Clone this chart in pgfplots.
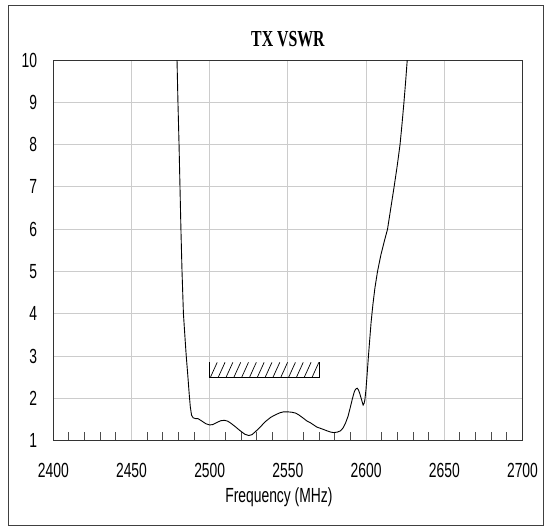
\documentclass[border=0pt]{standalone}
\usepackage{fontspec}
\usepackage{pgfplots}
\pgfplotsset{compat=1.18}
\newfontfamily\tickfont[FakeStretch=0.68]{Liberation Sans}
\newfontfamily\titlefont[FakeStretch=0.69]{Liberation Serif}
\definecolor{gridgray}{RGB}{204,204,204}
\begin{document}
\begin{tikzpicture}
\useasboundingbox (0,0) rectangle (550bp,-529bp);
\draw[black!75, line width=1bp] (8bp,-5bp) rectangle (543.5bp,-525bp);
\begin{axis}[
 at={(53.3bp,-440.6bp)}, anchor=south west,
 width=469.2bp, height=380.6bp, scale only axis,
 xmin=2400, xmax=2700, ymin=1, ymax=10,
 xtick={2400,2450,...,2700}, ytick={1,2,...,10},
 minor xtick={2410,2420,2430,2440,2460,2470,2480,2490,2510,2520,2530,2540,2560,2570,2580,2590,2610,2620,2630,2640,2660,2670,2680,2690},
 major tick length=0pt, minor tick length=8.5bp,
 xtick pos=bottom, ytick pos=left, tick align=inside,
 grid=major, major grid style={gridgray, line width=0.9bp},
 minor tick style={black!70, line width=0.9bp},
 axis line style={black!80, line width=1bp},
 scaled x ticks=false,
 /pgf/number format/1000 sep={},
 /pgf/number format/assume math mode=true,
 tick label style={font=\tickfont\fontsize{20.5}{22}\selectfont, inner sep=0pt},
 yticklabel style={anchor=east, xshift=-16bp},
 xticklabel style={anchor=north, yshift=-22bp},
 xlabel={Frequency (MHz)},
 xlabel style={font=\tickfont\fontsize{20.5}{22}\selectfont, at={(axis description cs:0.5,0)}, anchor=north, yshift=-47bp, xshift=-9bp, inner sep=0pt},
 title={TX VSWR},
 title style={font=\titlefont\bfseries\fontsize{23}{26}\selectfont, at={(axis description cs:0.5,1)}, anchor=base, yshift=8bp, inner sep=0pt},
 clip=true, unbounded coords=jump,
]
\addplot[black, line width=0.9bp] coordinates {
(2479.0,10.3) (2479.1,10) (2479.7,9) (2480.4,8) (2481.0,7) (2481.6,6) (2482.3,5) (2483.2,4) (2484.3,3.38)
(2485.0,3.0) (2485.9,2.59) (2486.9,2.1) (2487.6,1.8) (2488.4,1.6) (2489.4,1.54) (2491.0,1.52) (2492.5,1.52)
(2495.1,1.46) (2497.5,1.40) (2500,1.37) (2502,1.38) (2504.7,1.43) (2507,1.47) (2509.4,1.48)
(2511.5,1.46) (2513.2,1.42) (2516,1.34) (2519.6,1.23) (2522.5,1.15) (2525,1.12) (2527,1.14)
(2529.2,1.21) (2532,1.31) (2535.6,1.45) (2539,1.55) (2542,1.61) (2545,1.66) (2547.3,1.68)
(2550,1.68) (2552.7,1.67) (2555,1.65) (2556.9,1.61) (2559.5,1.54) (2562.3,1.46) (2564.5,1.42)
(2566.5,1.37) (2568.5,1.32) (2570.8,1.29) (2573,1.26) (2575.1,1.23) (2577.5,1.2) (2579.3,1.19)
(2581.5,1.2) (2583.6,1.23) (2585.3,1.3) (2586.8,1.41) (2588.5,1.58) (2590,1.80) (2591.3,2.0)
(2592.5,2.16) (2593.4,2.22) (2594.3,2.24) (2595.1,2.2) (2595.9,2.12) (2597,1.98) (2598.1,1.84)
(2598.7,1.88) (2599.2,1.96) (2599.9,2.2) (2600.7,2.59) (2601.5,3.0) (2602.3,3.38) (2603.2,3.8)
(2604.3,4.2) (2605.6,4.6) (2607.3,5.0) (2609.5,5.4) (2611.9,5.75) (2613.7,6.0) (2615.8,6.5)
(2617.9,7.0) (2619.9,7.5) (2621.7,8.0) (2623.0,8.5) (2624.2,9.0) (2625.3,9.5) (2626.3,10) (2626.5,10.2)
};
\addplot[black, line width=0.9bp] coordinates {(2500,2.85) (2500,2.5) (2570,2.5) (2570,2.85)};
\addplot[black, line width=0.7bp] coordinates {
(2500.5,2.5) (2504.8,2.85) (nan,nan)
(2505.5,2.5) (2509.8,2.85) (nan,nan)
(2510.5,2.5) (2514.8,2.85) (nan,nan)
(2515.5,2.5) (2519.8,2.85) (nan,nan)
(2520.5,2.5) (2524.8,2.85) (nan,nan)
(2525.5,2.5) (2529.8,2.85) (nan,nan)
(2530.5,2.5) (2534.8,2.85) (nan,nan)
(2535.5,2.5) (2539.8,2.85) (nan,nan)
(2540.5,2.5) (2544.8,2.85) (nan,nan)
(2545.5,2.5) (2549.8,2.85) (nan,nan)
(2550.5,2.5) (2554.8,2.85) (nan,nan)
(2555.5,2.5) (2559.8,2.85) (nan,nan)
(2560.5,2.5) (2564.8,2.85) (nan,nan)
(2565.5,2.5) (2569.8,2.85)
};
\end{axis}
\end{tikzpicture}
\end{document}
